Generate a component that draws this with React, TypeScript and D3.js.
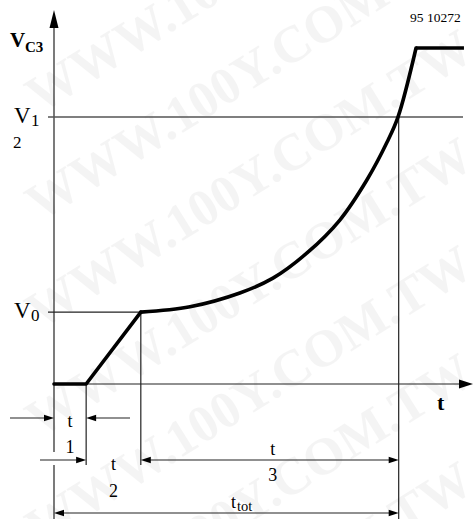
import * as d3 from 'd3';

// time axis (arbitrary units) and voltage (arbitrary units)
const timeMarks = [0, 1.0, 2.7, 10.72]; // start, end of t1, end of t2, end of t3
const levelNames = ['V0', 'V1'];
const levelValues = [2.14, 7.95];
const rampTimes = [0, 1.0, 2.7];
const rampVolts = [0, 0, 2.14];
const chargeTimes = [2.7, 4.23, 5.78, 6.81, 7.87, 8.89, 9.73, 10.36, 10.7, 11.26];
const chargeVolts = [2.14, 2.3, 2.71, 3.15, 3.9, 4.88, 6.07, 7.2, 7.95, 10];
const clampTimes = [11.26, 12.75];
const clampVolts = [10, 10];
const watermark = 'WWW.100Y.COM.TW';
const figureId = '95 10272';

const W = 473;
const H = 519;

const x = d3.scaleLinear().domain([0, 13]).range([54, 472]);
const y = d3.scaleLinear().domain([0, 10]).range([384, 48]);

const line = d3.line<[number, number]>().x(d => x(d[0])).y(d => y(d[1]));
const smooth = d3.line<[number, number]>().x(d => x(d[0])).y(d => y(d[1])).curve(d3.curveCatmullRom.alpha(0.5));

const zip = (a: number[], b: number[]) => a.map((v, i) => [v, b[i]] as [number, number]);

// small filled arrowhead, tip at (tx, ty), dir: 1 = pointing right, -1 = left
const head = (tx: number, ty: number, dir: number, len = 10, half = 3.3) =>
  `${tx},${ty} ${tx - dir * len},${ty - half} ${tx - dir * len},${ty + half}`;

const serif = "'Liberation Serif', 'Times New Roman', serif";

// watermark rows, slanted and repeated along each row
const angle = -32;
const rad = (angle * Math.PI) / 180;
const period = 580;
const marks: { x: number; y: number }[] = [];
for (let k = -3; k <= 5; k++) {
  for (let j = -2; j <= 2; j++) {
    marks.push({ x: 40 + j * period * Math.cos(rad), y: 330 + k * 108 + j * period * Math.sin(rad) });
  }
}

export default function App() {
  const [t0, t1, t2, t3] = timeMarks.map(x);
  const [v0, v1] = levelValues.map(y);
  const axisY = y(0);
  const rowA = 418;
  const rowB = 460;
  const rowC = 513;

  return (
    <svg width={W} height={H} style={{ position: 'absolute', left: 0, top: 0, background: '#fff' }}
      fontFamily={serif}>
      {/* watermark */}
      <g fill="#000" opacity={0.04} fontWeight="bold" fontSize={52}>
        {marks
          .filter(m => m.x < W + 50 && m.y > -50 && m.x > -560 && m.y < H + 350)
          .map((m, i) => (
            <text key={i} x={m.x} y={m.y} transform={`rotate(${angle} ${m.x} ${m.y})`}>
              {watermark}
            </text>
          ))}
      </g>

      {/* y axis */}
      <line x1={t0} x2={t0} y1={24} y2={452} stroke="#222" strokeWidth={1.2} />
      <line x1={t0} x2={t0} y1={465} y2={H} stroke="#222" strokeWidth={1.2} />
      <polygon points={`${t0},10 ${t0 - 4.5},28 ${t0 + 4.5},28`} fill="#000" />
      {/* x axis */}
      <line x1={t0} x2={460} y1={axisY} y2={axisY} stroke="#222" strokeWidth={1.2} />
      <polygon points={head(473, axisY, 1, 14, 4.5)} fill="#000" />

      {/* level lines */}
      <line x1={48} x2={463} y1={v1} y2={v1} stroke="#555" strokeWidth={1.5} />
      <line x1={48} x2={t2} y1={v0} y2={v0} stroke="#222" strokeWidth={1.2} />

      {/* vertical markers */}
      <line x1={t1} x2={t1} y1={axisY} y2={465} stroke="#222" strokeWidth={1.2} />
      <line x1={t2} x2={t2} y1={v0} y2={465} stroke="#222" strokeWidth={1.2} />
      <line x1={t3} x2={t3} y1={v1} y2={H} stroke="#222" strokeWidth={1.2} />

      {/* waveform */}
      <g fill="none" stroke="#000" strokeWidth={3.6} strokeLinejoin="round" strokeLinecap="round">
        <path d={line(zip(rampTimes, rampVolts)) ?? ''} />
        <path d={smooth(zip(chargeTimes, chargeVolts)) ?? ''} />
        <path d={line(zip(clampTimes, clampVolts)) ?? ''} strokeLinecap="butt" />
      </g>

      {/* dimension arrows */}
      <g stroke="#222" strokeWidth={1.2}>
        <line x1={10} x2={t0 - 8} y1={rowA} y2={rowA} />
        <line x1={t1 + 8} x2={130} y1={rowA} y2={rowA} />
        <line x1={40} x2={t1 - 8} y1={rowB} y2={rowB} />
        <line x1={t2 + 8} x2={t3 - 8} y1={rowB} y2={rowB} />
        <line x1={t0 + 8} x2={t3 - 8} y1={rowC} y2={rowC} />
      </g>
      <g fill="#000">
        <polygon points={head(t0, rowA, 1)} />
        <polygon points={head(t1, rowA, -1)} />
        <polygon points={head(t1, rowB, 1)} />
        <polygon points={head(t2, rowB, -1)} />
        <polygon points={head(t3, rowB, 1)} />
        <polygon points={head(t0, rowC, -1)} />
        <polygon points={head(t3, rowC, 1)} />
      </g>

      {/* labels */}
      <g fill="#000">
        <text x={10} y={47} fontSize={21} fontWeight="bold">V</text>
        <text x={25} y={52} fontSize={15} fontWeight="bold">C3</text>

        <text x={14} y={123} fontSize={23}>V</text>
        <text x={31} y={126} fontSize={17}>1</text>
        <text x={13} y={148} fontSize={17}>2</text>

        <text x={14} y={318} fontSize={23}>{levelNames[0].charAt(0)}</text>
        <text x={31} y={321} fontSize={17}>0</text>

        <text x={437} y={410} fontSize={22} fontWeight="bold">t</text>
        <text x={410} y={22} fontSize={13.5}>{figureId}</text>

        <g fontSize={18} textAnchor="middle">
          <text x={(t0 + t1) / 2} y={427}>t</text>
          <text x={(t0 + t1) / 2} y={453}>1</text>
          <text x={(t1 + t2) / 2} y={470}>t</text>
          <text x={(t1 + t2) / 2} y={497}>2</text>
          <text x={(t2 + t3) / 2 + 3} y={455}>t</text>
          <text x={(t2 + t3) / 2 + 3} y={481}>3</text>
        </g>
        <text x={231} y={508} fontSize={18}>t</text>
        <text x={237} y={511} fontSize={14.5}>tot</text>
      </g>
    </svg>
  );
}
